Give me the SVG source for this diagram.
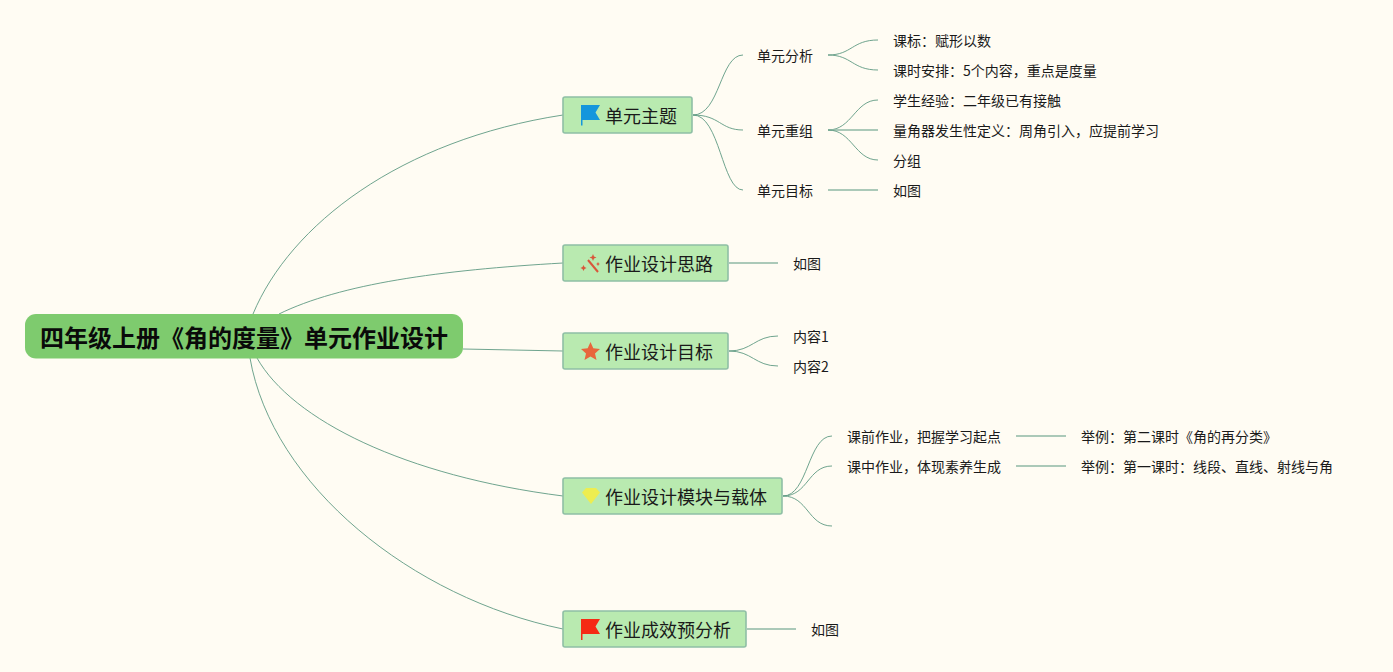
<svg xmlns="http://www.w3.org/2000/svg" width="1393" height="672" viewBox="0 0 1393 672">
<style>
text{font-family:"Noto Sans CJK SC","Liberation Sans",sans-serif;fill:#1a1a1a}
.c{fill:none;stroke:#5f9a82;stroke-width:.9}
.l{fill:none;stroke:#8fb8a4;stroke-width:1.3}
.t{fill:#b9eab0;stroke:#8fbfa5;stroke-width:1.6}
.m{font-size:18px}
.s{font-size:14px}
</style>
<rect width="1393" height="672" fill="#fffcf3"/>
<g id="connectors">
<path class="c" d="M253 314C290 225 400 140 563 115"/>
<path class="c" d="M279 314C340 284 440 270 563 263"/>
<path class="c" d="M463 349L563 351"/>
<path class="c" d="M257 358C292 420 405 476 563 496"/>
<path class="c" d="M250 358C272 485 412 598 563 629"/>
<path class="c" d="M693 115C720 115 720 55 743 55"/>
<path class="c" d="M693 115C720 115 720 130 743 130"/>
<path class="c" d="M693 115C720 115 722 190 743 190"/>
<path class="c" d="M828 55C852 55 852 40 878 40"/>
<path class="c" d="M828 55C852 55 852 70 878 70"/>
<path class="c" d="M828 130C852 130 855 100 878 100"/>
<path class="l" d="M828 130H878"/>
<path class="c" d="M828 130C852 130 855 160 878 160"/>
<path class="l" d="M828 190H878"/>
<path class="l" d="M729 263H778"/>
<path class="c" d="M729 351C752 351 755 336 778 336"/>
<path class="c" d="M729 351C752 351 755 366 778 366"/>
<path class="c" d="M783 496C808 496 808 436 832 436"/>
<path class="c" d="M783 496C808 496 808 466 832 466"/>
<path class="c" d="M783 496C808 496 808 526 832 526"/>
<path class="l" d="M1016 436H1066"/>
<path class="l" d="M1016 466H1066"/>
<path class="l" d="M747 629H796"/>
</g>
<g id="root">
<rect x="25" y="314" width="438" height="44.500" rx="11" fill="#7ecb6e"/>
<text x="244" y="347" font-size="24" font-weight="700" text-anchor="middle" style="fill:#0a0a0a">四年级上册《角的度量》单元作业设计</text>
</g>
<g id="n1">
<rect class="t" x="563" y="97" width="129" height="36" rx="2"/>
<path d="M581 105H600L595.500 112.500L600 120H582.500V125.500H581Z" fill="#1496dc"/>
<text class="m" x="605" y="123">单元主题</text>
</g>
<g id="n2">
<rect class="t" x="563" y="245" width="165" height="36" rx="2"/>
<path d="M588 260L598 272" fill="none" stroke="#d9563a" stroke-width="2"/>
<path d="M593 254l1 2.500 2.500 1-2.500 1-1 2.500-1-2.500-2.500-1 2.500-1ZM583.500 265l1 2 2 1-2 1-1 2-1-2-2-1 2-1ZM598 262l.8 1.500 1.200.5-1.200.5-.8 1.500-.8-1.500-1.200-.5 1.200-.5Z" fill="#d9563a"/>
<text class="m" x="605" y="271">作业设计思路</text>
</g>
<g id="n3">
<rect class="t" x="563" y="333" width="165" height="36" rx="2"/>
<path d="M590.500 342l2.800 6.300 6.700.6-5 4.500 1.500 6.600-6-3.500-6 3.500 1.500-6.600-5-4.500 6.700-.6Z" fill="#e8663c"/>
<text class="m" x="605" y="359">作业设计目标</text>
</g>
<g id="n4">
<rect class="t" x="563" y="478" width="219" height="36" rx="2"/>
<path d="M586 488H596L600 492.500L591 504L582 492.500Z" fill="#eded50"/>
<text class="m" x="605" y="504">作业设计模块与载体</text>
</g>
<g id="n5">
<rect class="t" x="563" y="611" width="183" height="36" rx="2"/>
<path d="M581 619H600L595.500 626.500L600 634H582.500V640H581Z" fill="#f52a14"/>
<text class="m" x="605" y="637">作业成效预分析</text>
</g>
<g id="a1"><text class="s" x="757" y="61">单元分析</text></g>
<g id="a2"><text class="s" x="757" y="136">单元重组</text></g>
<g id="a3"><text class="s" x="757" y="196">单元目标</text></g>
<g id="b1"><text class="s" x="893" y="46">课标：赋形以数</text></g>
<g id="b2"><text class="s" x="893" y="76">课时安排：5个内容，重点是度量</text></g>
<g id="b3"><text class="s" x="893" y="106">学生经验：二年级已有接触</text></g>
<g id="b4"><text class="s" x="893" y="136">量角器发生性定义：周角引入，应提前学习</text></g>
<g id="b5"><text class="s" x="893" y="166">分组</text></g>
<g id="b6"><text class="s" x="893" y="196">如图</text></g>
<g id="c1"><text class="s" x="793" y="269">如图</text></g>
<g id="d1"><text class="s" x="793" y="342">内容1</text></g>
<g id="d2"><text class="s" x="793" y="372">内容2</text></g>
<g id="e1"><text class="s" x="847" y="442">课前作业，把握学习起点</text></g>
<g id="e2"><text class="s" x="847" y="472">课中作业，体现素养生成</text></g>
<g id="f1"><text class="s" x="1081" y="442">举例：第二课时《角的再分类》</text></g>
<g id="f2"><text class="s" x="1081" y="472">举例：第一课时：线段、直线、射线与角</text></g>
<g id="g1"><text class="s" x="811" y="635">如图</text></g>
</svg>
